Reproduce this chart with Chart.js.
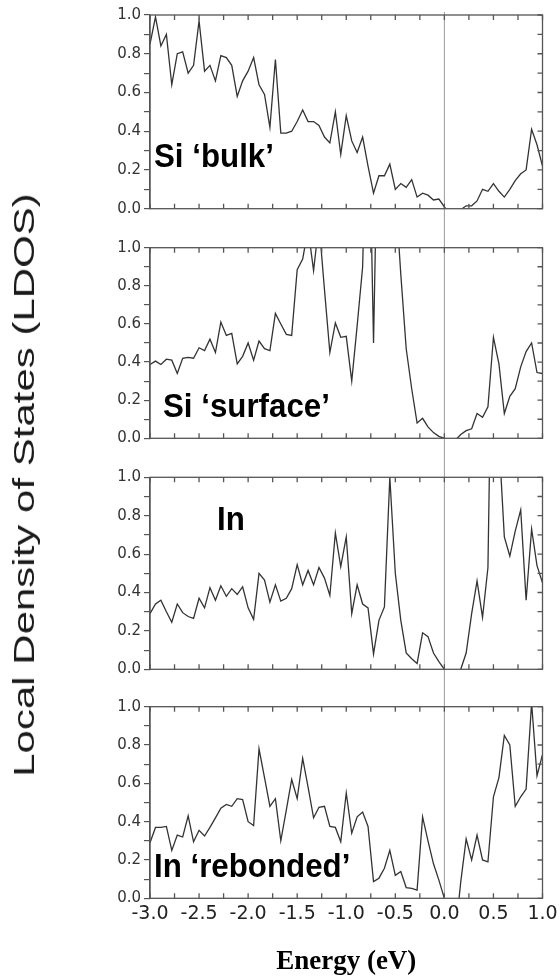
<!DOCTYPE html>
<html>
<head>
<meta charset="utf-8">
<script src="https://cdn.jsdelivr.net/npm/chart.js@4.4.1/dist/chart.umd.min.js"></script>
<style>
  html, body { margin: 0; padding: 0; background: #fff; }
  #fig { position: relative; width: 560px; height: 978px; overflow: hidden; }
  #fig canvas { position: absolute; left: 0; }
  .lbl {
    position: absolute; white-space: nowrap; color: #000;
    font-family: "Liberation Sans", Arial, sans-serif; font-weight: bold;
    font-size: 34px; line-height: 34px;
    transform-origin: 0 0; transform: scaleX(0.92);
  }
  #ytitle {
    position: absolute; left: 24px; top: 485px; white-space: nowrap; color: #1a1a1a;
    font-family: "Liberation Sans", Arial, sans-serif; font-size: 30px; line-height: 30px;
    transform: translate(-50%, -50%) rotate(-90deg) scaleX(1.4);
  }
</style>
</head>
<body>
<div id="fig">
  <canvas id="c1" width="560" height="228" style="top:0px"></canvas>
  <canvas id="c2" width="560" height="230" style="top:228px"></canvas>
  <canvas id="c3" width="560" height="230" style="top:458px"></canvas>
  <canvas id="c4" width="560" height="290" style="top:688px"></canvas>
  <div class="lbl" style="left:154px; top:138px">Si ‘bulk’</div>
  <div class="lbl" style="left:163px; top:388px">Si ‘surface’</div>
  <div class="lbl" style="left:217px; top:501px">In</div>
  <div class="lbl" style="left:154px; top:848px">In ‘rebonded’</div>
  <div id="ytitle">Local Density of States (LDOS)</div>
</div>
<script>
// energy grid (eV)
const ENERGY = [
  -3.000, -2.944, -2.889, -2.833, -2.778, -2.722, -2.667, -2.611, -2.556, -2.500,
  -2.444, -2.389, -2.333, -2.278, -2.222, -2.167, -2.111, -2.056, -2.000, -1.944,
  -1.889, -1.833, -1.778, -1.722, -1.667, -1.611, -1.556, -1.500, -1.444, -1.389,
  -1.333, -1.278, -1.222, -1.167, -1.111, -1.056, -1.000, -0.944, -0.889, -0.833,
  -0.778, -0.722, -0.667, -0.611, -0.556, -0.500, -0.444, -0.389, -0.333, -0.278,
  -0.222, -0.167, -0.111, -0.056, 0.000, 0.056, 0.111, 0.167, 0.222, 0.278,
  0.333, 0.389, 0.444, 0.500, 0.556, 0.611, 0.667, 0.722, 0.778, 0.833,
  0.889, 0.944, 1.000
];

const SI_BULK = [
  0.85, 0.99, 0.84, 0.90, 0.64, 0.80, 0.81, 0.70, 0.74, 0.97,
  0.71, 0.74, 0.66, 0.79, 0.78, 0.74, 0.58, 0.66, 0.71, 0.78,
  0.64, 0.59, 0.42, 0.77, 0.39, 0.39, 0.40, 0.45, 0.51, 0.45,
  0.45, 0.43, 0.37, 0.34, 0.50, 0.28, 0.48, 0.35, 0.29, 0.37,
  0.22, 0.08, 0.17, 0.17, 0.23, 0.10, 0.13, 0.11, 0.15, 0.06,
  0.08, 0.07, 0.045, 0.05, 0.01, -0.03, -0.04, -0.005, 0.015, 0.015,
  0.04, 0.10, 0.09, 0.13, 0.09, 0.06, 0.10, 0.145, 0.18, 0.20,
  0.41, 0.33, 0.22
];

const SI_SURFACE = [
  0.387, 0.405, 0.387, 0.415, 0.41, 0.34, 0.42, 0.425, 0.42, 0.475,
  0.46, 0.52, 0.45, 0.61, 0.54, 0.55, 0.39, 0.43, 0.50, 0.41,
  0.51, 0.47, 0.46, 0.655, 0.60, 0.545, 0.54, 0.885, 0.94, 1.10,
  0.88, 1.13, 0.78, 0.45, 0.605, 0.53, 0.535, 0.30, 0.59, 0.90,
  2.0, 0.50, 2.0, 1.3, 1.3, 1.3, 0.86, 0.47, 0.26, 0.08,
  0.105, 0.06, 0.03, 0.01, 0.0, -0.02, -0.01, 0.02, 0.04, 0.05,
  0.13, 0.11, 0.165, 0.53, 0.39, 0.13, 0.22, 0.26, 0.375, 0.455,
  0.50, 0.345, 0.34
];

const IN_ATOM = [
  0.29, 0.34, 0.36, 0.30, 0.245, 0.34, 0.295, 0.275, 0.265, 0.37,
  0.32, 0.425, 0.36, 0.435, 0.38, 0.42, 0.39, 0.43, 0.32, 0.26,
  0.50, 0.465, 0.35, 0.44, 0.355, 0.37, 0.42, 0.545, 0.44, 0.515,
  0.44, 0.53, 0.475, 0.385, 0.71, 0.535, 0.69, 0.29, 0.44, 0.34,
  0.32, 0.08, 0.255, 0.325, 1.0, 0.50, 0.255, 0.085, 0.055, 0.03,
  0.19, 0.17, 0.085, 0.04, 0.0, -0.06, -0.05, 0.0, 0.085, 0.29,
  0.46, 0.27, 0.53, 2.4, 1.2, 0.69, 0.59, 0.72, 0.83, 0.36,
  0.73, 0.54, 0.45
];

const IN_REBONDED = [
  0.29, 0.37, 0.37, 0.375, 0.25, 0.33, 0.32, 0.43, 0.295, 0.355,
  0.325, 0.37, 0.42, 0.47, 0.49, 0.48, 0.52, 0.515, 0.40, 0.38,
  0.78, 0.63, 0.48, 0.52, 0.30, 0.46, 0.62, 0.52, 0.73, 0.58,
  0.42, 0.475, 0.48, 0.375, 0.37, 0.295, 0.55, 0.34, 0.425, 0.45,
  0.375, 0.087, 0.105, 0.157, 0.25, 0.12, 0.14, 0.056, 0.052, 0.043,
  0.425, 0.30, 0.18, 0.095, 0.0, -0.15, -0.19, 0.086, 0.31, 0.20,
  0.33, 0.20, 0.19, 0.53, 0.63, 0.85, 0.80, 0.48, 0.53, 0.57,
  1.02, 0.64, 0.75
];

const X_TICKS = [-3.0, -2.5, -2.0, -1.5, -1.0, -0.5, 0.0, 0.5, 1.0];
const X_MINOR = [-3.0, -2.75, -2.5, -2.25, -2.0, -1.75, -1.5, -1.25, -1.0, -0.75, -0.5, -0.25, 0.0, 0.25, 0.5, 0.75, 1.0];
const Y_TICKS = [0.0, 0.1, 0.2, 0.3, 0.4, 0.5, 0.6, 0.7, 0.8, 0.9, 1.0];
const Y_LABELED = [0.0, 0.2, 0.4, 0.6, 0.8, 1.0];

const AXIS = '#555';

// frame, inward ticks and the E = 0 line
const framePlugin = {
  id: 'frame',
  beforeDatasetsDraw(chart, args, opts) {
    const { ctx, chartArea: a, scales: { x } } = chart;
    const px = x.getPixelForValue(0);
    ctx.save();
    ctx.strokeStyle = '#9a9a9a';
    ctx.lineWidth = 1;
    ctx.beginPath();
    ctx.moveTo(px, opts.zeroFromArea ? a.top - 3 : 0);
    ctx.lineTo(px, opts.zeroToArea ? a.bottom : chart.height);
    ctx.stroke();
    ctx.restore();
  },
  afterDatasetsDraw(chart) {
    const { ctx, chartArea: a, scales: { x, y } } = chart;
    ctx.save();
    ctx.strokeStyle = AXIS;
    ctx.lineWidth = 1.3;
    ctx.strokeRect(a.left, a.top, a.right - a.left, a.bottom - a.top);
    ctx.beginPath();
    X_MINOR.forEach(v => {
      const px = x.getPixelForValue(v);
      ctx.moveTo(px, a.top); ctx.lineTo(px, a.top + 5);
      ctx.moveTo(px, a.bottom); ctx.lineTo(px, a.bottom - 5);
    });
    Y_TICKS.forEach(v => {
      const py = y.getPixelForValue(v);
      ctx.moveTo(a.right, py); ctx.lineTo(a.right - 5, py);
    });
    ctx.stroke();
    ctx.restore();
  }
};

const PANELS = [
  { id: 'c1', values: SI_BULK, padTop: 15, padBottom: 19.3, zeroFromArea: true, zeroToArea: false, bottom: false },
  { id: 'c2', values: SI_SURFACE, padTop: 19.7, padBottom: 19.7, zeroFromArea: false, zeroToArea: false, bottom: false },
  { id: 'c3', values: IN_ATOM, padTop: 19.3, padBottom: 18.7, zeroFromArea: false, zeroToArea: false, bottom: false },
  { id: 'c4', values: IN_REBONDED, padTop: 18.7, padBottom: 0, zeroFromArea: false, zeroToArea: true, bottom: true }
];

function xScale(bottom) {
  if (!bottom) return { type: 'linear', min: -3, max: 1, display: false };
  return {
    type: 'linear', min: -3, max: 1,
    afterBuildTicks: s => { s.ticks = X_TICKS.map(v => ({ value: v })); },
    afterFit: s => { s.height = 79.7; s.paddingLeft = 0; s.paddingRight = 0; },
    ticks: {
      autoSkip: false, maxRotation: 0, padding: 4, color: '#222',
      font: { family: 'DejaVu Sans', size: 19 },
      callback: v => v.toFixed(1)
    },
    grid: { display: false, drawTicks: false },
    border: { display: false },
    title: {
      display: true, text: 'Energy (eV)', color: '#000', padding: 0,
      font: { family: 'Liberation Serif', size: 27, weight: 'bold' }
    }
  };
}

function makeChart(p) {
  new Chart(document.getElementById(p.id), {
    type: 'line',
    data: {
      datasets: [{
        data: ENERGY.map((e, i) => ({ x: e, y: p.values[i] })),
        borderColor: '#333',
        borderWidth: 1.3,
        pointRadius: 0,
        tension: 0,
        clip: 0
      }]
    },
    options: {
      responsive: false,
      animation: false,
      devicePixelRatio: 1,
      layout: { padding: { left: 100, right: 17.5, top: p.padTop, bottom: p.padBottom } },
      plugins: {
        legend: { display: false },
        tooltip: { enabled: false },
        frame: { zeroFromArea: p.zeroFromArea, zeroToArea: p.zeroToArea }
      },
      scales: {
        x: xScale(p.bottom),
        y: {
          type: 'linear', min: 0, max: 1,
          afterBuildTicks: s => { s.ticks = Y_TICKS.map(v => ({ value: v })); },
          afterFit: s => { s.width = 50; s.paddingTop = 0; s.paddingBottom = 0; },
          ticks: {
            autoSkip: false, padding: 3, color: '#333',
            font: { family: 'DejaVu Sans', size: 15 },
            callback: v => Y_LABELED.includes(v) ? v.toFixed(1) : ''
          },
          grid: { display: true, drawOnChartArea: false, drawTicks: true, tickLength: 6, color: AXIS, lineWidth: 1.2 },
          border: { display: true, color: AXIS, width: 1.3 }
        }
      }
    },
    plugins: [framePlugin]
  });
}

PANELS.forEach(makeChart);
</script>
</body>
</html>
